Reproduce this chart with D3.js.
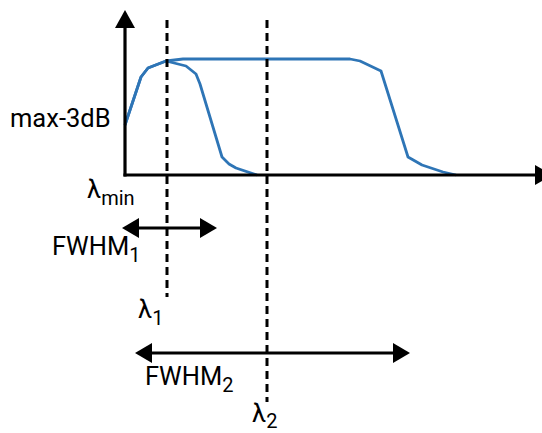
<!DOCTYPE html>
<html><head><meta charset="utf-8">
<script src="https://cdn.jsdelivr.net/npm/d3@7"></script>
<style>body{margin:0;background:#fff}svg{display:block}text{font-family:Roboto,"Noto Sans",sans-serif;fill:#000}</style>
</head><body>
<script>
// wavelength positions (arbitrary units, λmin = 0)
const narrowX = [0,16,23,41,61,71,75,97,104,111,132];
const narrowY = [50,98,107,114,109,101,91,18,11,7,0];
const wideX = [0,16,23,41,58,225,235,256,283,297,318,331];
const wideY = [50,98,107,114,116,116,114,104,18,10,3,0];
const lambdas = [42,142];
const lambdaLabels = ["1","2"];
const fwhm1 = [-3,92];
const fwhm2 = [10,285];
const level3dB = 50;

const W=542,H=433;
const svg=d3.select("body").append("svg").attr("width",W).attr("height",H);
const x=d3.scaleLinear().domain([0,415]).range([125,540]);
const y=d3.scaleLinear().domain([0,116]).range([175,59]);
const blue="#2E75B6";

// curves
const line=d3.line().x(d=>x(d[0])).y(d=>y(d[1]));
[[narrowX,narrowY],[wideX,wideY]].forEach(([xs,ys])=>{
  svg.append("path").datum(xs.map((v,i)=>[v,ys[i]])).attr("d",line)
    .attr("fill","none").attr("stroke",blue).attr("stroke-width",2.8).attr("stroke-linejoin","round");
});

// dashed lambda lines
const dashBottoms=[297,402];
lambdas.forEach((l,i)=>{
  svg.append("line").attr("x1",x(l)).attr("x2",x(l)).attr("y1",20).attr("y2",dashBottoms[i])
    .attr("stroke","#000").attr("stroke-width",3).attr("stroke-dasharray","8,5");
});

// axes
svg.append("line").attr("x1",x(0)).attr("x2",x(0)).attr("y1",y(0)+1.5).attr("y2",26).attr("stroke","#000").attr("stroke-width",3.2);
svg.append("path").attr("d",`M${x(0)-10},28L${x(0)+10},28L${x(0)},10Z`).attr("fill","#000");
svg.append("line").attr("x1",x(0)-1.5).attr("x2",537).attr("y1",y(0)).attr("y2",y(0)).attr("stroke","#000").attr("stroke-width",3.2);
svg.append("path").attr("d",`M535,${y(0)-10}L535,${y(0)+10}L553,${y(0)}Z`).attr("fill","#000");

// double arrows
function dbl(a,b,yy){
  const x1=x(a),x2=x(b);
  svg.append("line").attr("x1",x1+10).attr("x2",x2-10).attr("y1",yy).attr("y2",yy).attr("stroke","#000").attr("stroke-width",3);
  svg.append("path").attr("d",`M${x1},${yy}L${x1+17},${yy-10}L${x1+17},${yy+10}Z`).attr("fill","#000");
  svg.append("path").attr("d",`M${x2},${yy}L${x2-17},${yy-10}L${x2-17},${yy+10}Z`).attr("fill","#000");
}
dbl(fwhm1[0],fwhm1[1],228);
dbl(fwhm2[0],fwhm2[1],353);

// labels
function lab(main,sub,xx,yy,dy){
  const t=svg.append("text").attr("x",xx).attr("y",yy).attr("font-size",25.5);
  t.append("tspan").text(main);
  if(sub) t.append("tspan").attr("font-size",20).attr("dy",dy||7).text(sub);
}
lab("max-3dB",null,10,y(level3dB)+2);
lab("λ","min",87,198);
lab("FWHM","1",52,255);
lab("FWHM","2",145,385);
const lamLabelX=[138,252], lamLabelY=[318,422], lamSubDy=[7,6];
lambdas.forEach((l,i)=>lab("λ",lambdaLabels[i],lamLabelX[i],lamLabelY[i],lamSubDy[i]));
</script>
</body></html>
